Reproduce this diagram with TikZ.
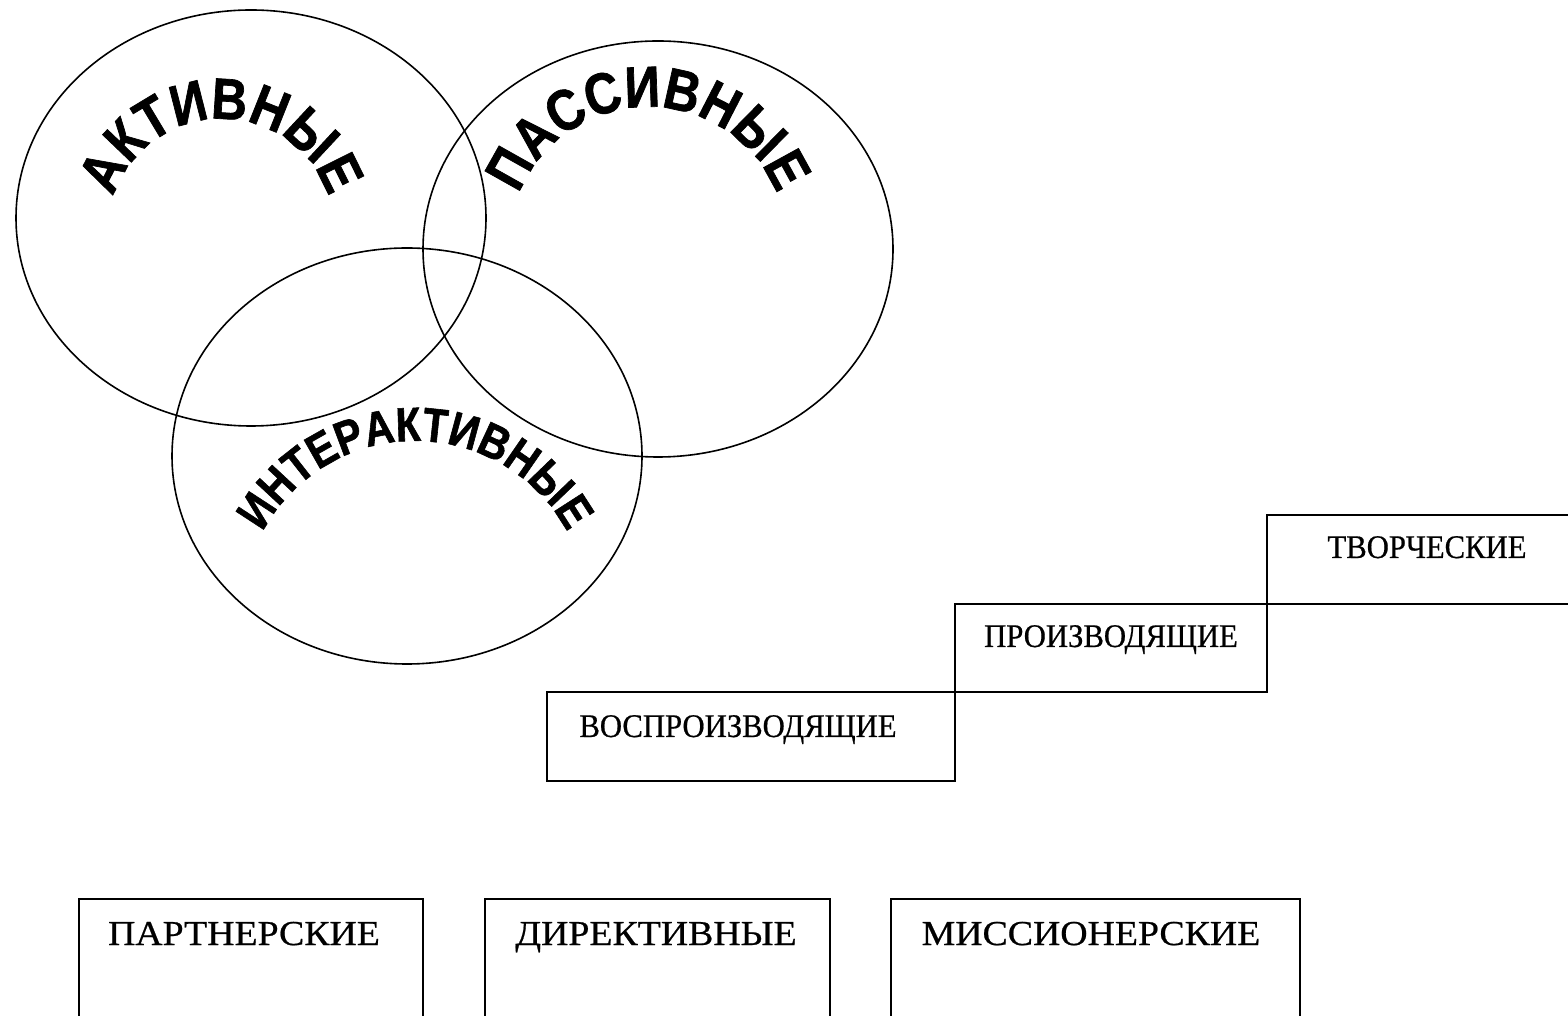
\documentclass[tikz,border=0pt]{standalone}
\usepackage{fontspec}
\setmainfont{Liberation Serif}
\setsansfont{Liberation Sans}
\newfontfamily\arcfam{Liberation Sans}[FakeStretch=0.85, LetterSpace=-6, FakeBold=1.2]
\newfontfamily\stepfam{Liberation Serif}[FakeStretch=0.93, FakeBold=0.6]
\newfontfamily\cardfam{Liberation Serif}[FakeStretch=1.08, FakeBold=0.6]
\usetikzlibrary{decorations.text}

\newcommand{\arcbig}{\fontsize{58}{58}\selectfont\arcfam\bfseries}
\newcommand{\arcsmall}{\fontsize{48}{48}\selectfont\arcfam\bfseries}
\newcommand{\stepfont}{\fontsize{33}{33}\selectfont\stepfam}
\newcommand{\cardfont}{\fontsize{35}{35}\selectfont\cardfam}

\tikzset{
  ring/.style={line width=1.6pt},
  stair/.style={line width=2pt},
  label/.style={anchor=base, inner sep=0pt},
  curved/.style={decorate, decoration={text along path, text align=center, text={#1}}}
}

\begin{document}
\begin{tikzpicture}[x=1pt, y=1pt]

\useasboundingbox (0,0) rectangle (1568,1015);
\clip (0,0) rectangle (1568,1015);

% circles
\draw[ring] (251,797) ellipse [x radius=235pt, y radius=208pt];
\draw[ring] (658,766) ellipse [x radius=235pt, y radius=208pt];
\draw[ring] (407,559) ellipse [x radius=235pt, y radius=208pt];

% curved words
\path[curved={|\arcbig|АКТИВНЫЕ}] (108,783) arc (180:0:113);
\path[curved={|\arcbig|ПАССИВНЫЕ}] (509,769) arc (180:0:139);
\path[curved={|\arcsmall|ИНТЕРАКТИВНЫЕ}] (242,401) arc (180:0:173);

% stairs
\draw[stair] (547,234) rectangle (955,323);
\draw[stair] (955,323) rectangle (1267,411);
\draw[stair] (1267,411) rectangle (1590,500);
\node[label] (vospr) at (738,278) {\stepfont ВОСПРОИЗВОДЯЩИЕ};
\node[label] (proiz) at (1111,368) {\stepfont ПРОИЗВОДЯЩИЕ};
\node[label] (tvor) at (1427,457) {\stepfont ТВОРЧЕСКИЕ};

% bottom cards
\draw[stair] (79,-20) rectangle (423,116);
\draw[stair] (485,-20) rectangle (830,116);
\draw[stair] (891,-20) rectangle (1300,116);
\node[label] (partn) at (244,70) {\cardfont ПАРТНЕРСКИЕ};
\node[label] (direkt) at (656,70) {\cardfont ДИРЕКТИВНЫЕ};
\node[label] (mission) at (1091,70) {\cardfont МИССИОНЕРСКИЕ};

\end{tikzpicture}
\end{document}
